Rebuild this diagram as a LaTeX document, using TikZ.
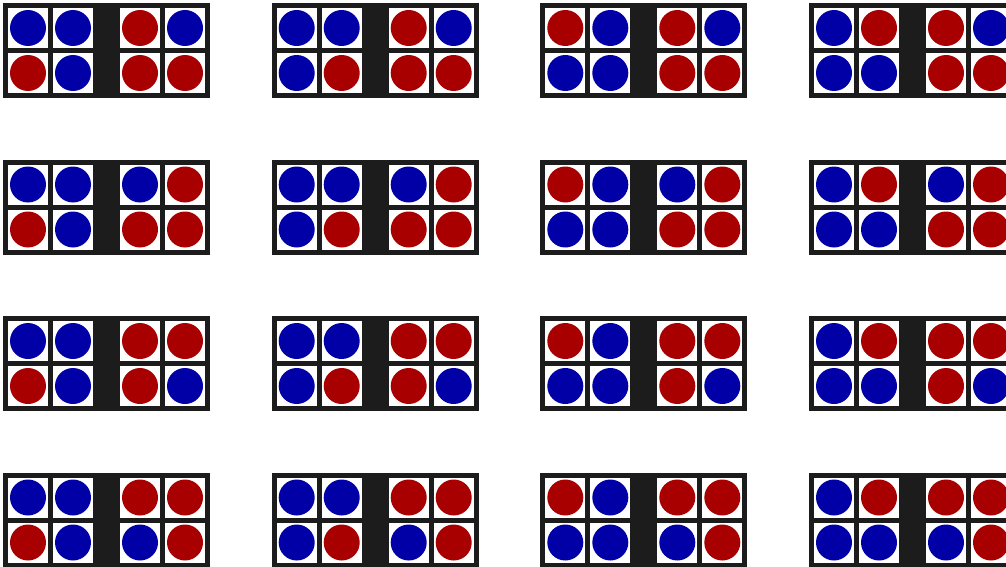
\documentclass[tikz,border=0pt]{standalone}
\usepackage{xcolor}
\usepackage{tikz}
\definecolor{frameBlack}{HTML}{1C1C1C}
\definecolor{dotBlue}{HTML}{0000A6}
\definecolor{dotRed}{HTML}{A80000}
\tikzset{
  frame/.style = {fill=frameBlack},
  cell/.style  = {fill=white},
  dot/.style   = {fill=#1, draw=none}
}

\begin{document}
\begin{tikzpicture}[x=1pt, y=-1pt]
  \clip (0,0) rectangle (1006,567);
  \fill[white] (0,0) rectangle (1006,567);

  % --- columns: left pair of dots (TL/TR/BL/BR)
  \foreach \bx/\la/\lb/\lc/\ld in {3/dotBlue/dotBlue/dotRed/dotBlue,
                                   271.7/dotBlue/dotBlue/dotBlue/dotRed,
                                   540.3/dotRed/dotBlue/dotBlue/dotBlue,
                                   809/dotBlue/dotRed/dotBlue/dotBlue}{
    % --- rows: right pair of dots (TL/TR/BL/BR)
    \foreach \by/\ra/\rb/\rc/\rd in {3/dotRed/dotBlue/dotRed/dotRed,
                                     159.5/dotBlue/dotRed/dotRed/dotRed,
                                     316/dotRed/dotRed/dotRed/dotBlue,
                                     472.5/dotRed/dotRed/dotBlue/dotRed}{
      \begin{scope}[shift={(\bx,\by)}]
        \fill[frame] (0,0) rectangle (207,95);
        \foreach \cx in {5,50,117,162}
          \foreach \cy in {5,50}
            \fill[cell] (\cx,\cy) rectangle ++(40,40);
        \fill[dot=\la] (25,25) circle (18);
        \fill[dot=\lb] (70,25) circle (18);
        \fill[dot=\lc] (25,70) circle (18);
        \fill[dot=\ld] (70,70) circle (18);
        \fill[dot=\ra] (137,25) circle (18);
        \fill[dot=\rb] (182,25) circle (18);
        \fill[dot=\rc] (137,70) circle (18);
        \fill[dot=\rd] (182,70) circle (18);
      \end{scope}
    }
  }
\end{tikzpicture}
\end{document}
